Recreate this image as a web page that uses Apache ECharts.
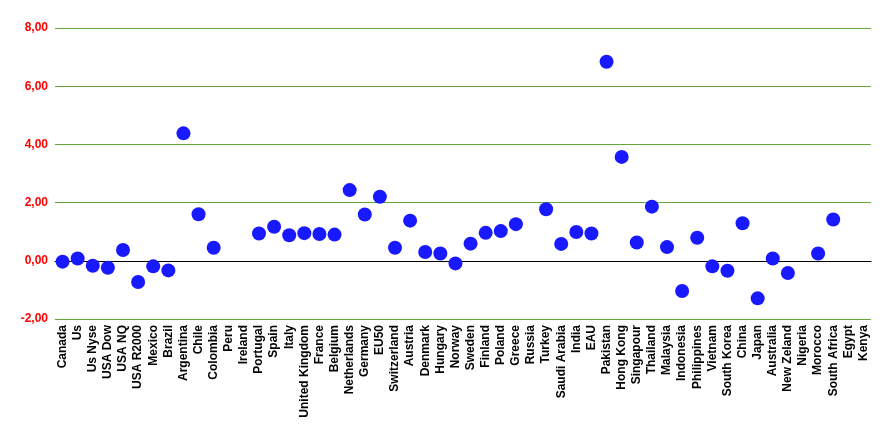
<!DOCTYPE html>
<html>
<head>
<meta charset="utf-8">
<script src="https://cdn.jsdelivr.net/npm/echarts@6/dist/echarts.min.js"></script>
<style>html,body{margin:0;padding:0;background:#fff}#c{width:893px;height:436px}</style>
</head>
<body>
<div id="c"></div>
<script>
const categories = ["Canada","Us","Us Nyse","USA Dow","USA NQ","USA R2000","Mexico","Brazil","Argentina","Chile","Colombia","Peru","Ireland","Portugal","Spain","Italy","United Kingdom","France","Belgium","Netherlands","Germany","EU50","Switzerland","Austria","Denmark","Hungary","Norway","Sweden","Finland","Poland","Greece","Russia","Turkey","Saudi Arabia","India","EAU","Pakistan","Hong Kong","Singapour","Thailand","Malaysia","Indonesia","Philippines","Vietnam","South Korea","China","Japan","Australia","New Zeland","Nigeria","Morocco","South Africa","Egypt","Kenya"];
const values = [-0.03,0.08,-0.17,-0.24,0.37,-0.73,-0.19,-0.33,4.38,1.60,0.45,null,null,0.94,1.17,0.88,0.95,0.92,0.90,2.43,1.59,2.20,0.45,1.38,0.30,0.25,-0.09,0.59,0.96,1.02,1.26,null,1.77,0.58,0.99,0.94,6.84,3.57,0.63,1.86,0.47,-1.04,0.79,-0.19,-0.34,1.29,-1.29,0.08,-0.42,null,0.25,1.42,null,null];
const yMin = -2, yMax = 8, yStep = 2;

const chart = echarts.init(document.getElementById('c'));
chart.setOption({
  animation: false,
  backgroundColor: '#fff',
  grid: {left: 55, right: 22, top: 28, bottom: 117, containLabel: false},
  xAxis: {
    type: 'category',
    data: categories,
    boundaryGap: true,
    axisLine: {onZero: true, lineStyle: {color: '#000', width: 1}},
    axisTick: {show: false},
    axisLabel: {rotate: 90, interval: 0, margin: 6, color: '#000', fontFamily: 'Liberation Sans, Arial, sans-serif', fontWeight: 'bold', fontSize: 12},
    splitLine: {show: false}
  },
  yAxis: {
    type: 'value',
    min: yMin, max: yMax, interval: yStep,
    axisLine: {show: false},
    axisTick: {show: false},
    axisLabel: {color: '#ff0000', fontFamily: 'Liberation Sans, Arial, sans-serif', fontWeight: 'bold', fontSize: 12, margin: 7,
      formatter: v => v.toFixed(2).replace('.', ',')},
    splitLine: {show: true, lineStyle: {color: '#64a83c', width: 1}}
  },
  series: [{
    type: 'scatter',
    data: values,
    symbol: 'circle',
    symbolSize: 14,
    itemStyle: {color: '#1919ff', opacity: 1}
  }]
});
</script>
</body>
</html>
